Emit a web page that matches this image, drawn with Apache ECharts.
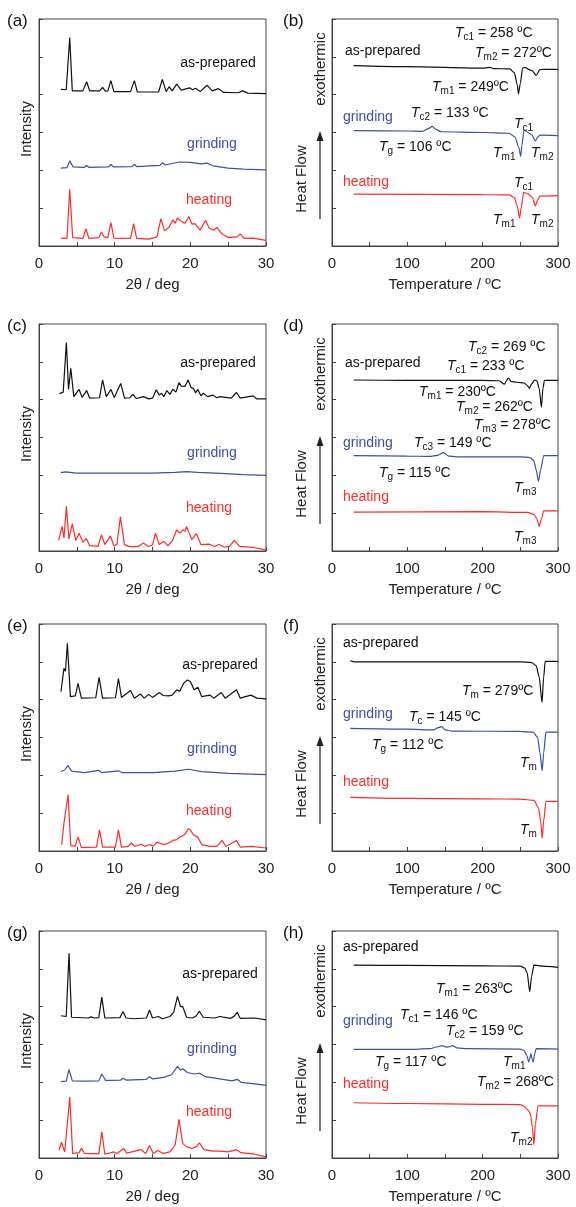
<!DOCTYPE html>
<html><head><meta charset="utf-8">
<script src="https://cdn.jsdelivr.net/npm/echarts@6/dist/echarts.min.js"></script>
<style>html,body{margin:0;padding:0;background:#fff}#c{width:576px;height:1207px}</style>
</head><body><div id="c"></div>
<script>
// ---------- tick labels / categories ----------
const xrdTicks = [0, 10, 20, 30];
const dscTicks = [0, 100, 200, 300];
const samples = ['as-prepared', 'grinding', 'heating'];
const panelLetters = ['(a)', '(b)', '(c)', '(d)', '(e)', '(f)', '(g)', '(h)'];

// ---------- (a) XRD ----------
const xrdA_prep = [[2.9,414],[3.6,413],[4.06,551],[4.4,410],[5.8,410],[6.3,434],[6.7,410],[8.0,410],[8.4,419],[8.8,409],[9.1,410],[9.5,437],[9.9,408],[12.1,408],[12.6,437],[13.0,407],[15.8,407],[16.3,440],[16.8,408],[17.2,421],[17.6,410],[18.2,428],[18.8,412],[19.9,418],[20.3,413],[20.7,417],[21.3,408],[22.2,425],[22.9,410],[23.7,416],[24.4,406],[26.3,405],[26.9,410],[27.6,404],[30,403]];
const xrdA_grind = [[2.9,206],[3.7,207],[4.06,225],[4.5,209],[6.0,208],[6.3,213],[6.6,208],[9.2,209],[9.5,216],[9.8,209],[12.3,210],[12.6,216],[12.9,210],[16.0,213],[16.3,220],[16.7,214],[18.5,222],[20,221],[21.5,217],[22.2,219],[23,212],[25,206],[27,203],[30,201]];
const xrdA_heat = [[2.9,21],[3.7,20],[4.06,150],[4.45,22],[5.8,20],[6.2,45],[6.6,20],[7.9,22],[8.25,37],[8.6,24],[9.1,22],[9.5,62],[9.9,21],[12.1,20],[12.5,59],[12.9,20],[14.5,18],[15.6,24],[16.1,72],[16.6,40],[17.2,50],[17.7,69],[18.0,60],[18.3,74],[18.8,65],[19.3,60],[19.8,78],[20.2,58],[20.6,59],[21.3,42],[22.0,68],[22.5,47],[23.1,42],[23.5,49],[24.1,34],[25,22],[26.2,24],[26.6,32],[27.1,20],[28.3,21],[30,15]];
// ---------- (b) DSC ----------
const dscB_prep = [[28.7,477],[100,474],[200,470],[209,472],[215,469],[236,468],[242,458],[246,425],[247.5,402],[250,430],[253,470],[256,472],[262,466],[266,463],[271,451],[276,466],[280,467],[300,467]];
const dscB_grind = [[28.7,305],[100,304],[120,303],[128,310],[133,316],[138,308],[145,302],[200,300],[235,298],[243,288],[248,260],[250.5,237],[252,265],[255,307],[260,300],[265,294],[270,278],[273,288],[276,293],[300,292]];
const dscB_heat = [[28.7,137],[200,136],[235,135],[242,128],[246,105],[249,74],[251,100],[254.5,142],[260,138],[266,128],[270,106],[273,122],[276,132],[300,133]];
// ---------- (c) XRD ----------
const xrdC_prep = [[2.7,416],[3.2,420],[3.62,551],[3.9,427],[4.2,483],[4.6,408],[5.3,427],[5.7,406],[6.3,424],[6.7,404],[8.0,405],[8.4,452],[8.9,408],[9.5,427],[9.95,406],[10.8,443],[11.3,404],[12.0,405],[12.4,414],[12.9,403],[13.8,408],[14.5,402],[15.0,404],[15.5,426],[15.9,412],[16.2,417],[16.5,408],[16.9,424],[17.3,414],[17.7,428],[18.1,420],[18.5,445],[18.8,436],[19.0,439],[19.3,435],[19.7,452],[20.1,432],[20.4,430],[20.7,418],[21.0,427],[21.4,410],[21.7,417],[22.3,408],[23.0,412],[23.5,405],[23.9,408],[25.4,404],[26.1,419],[26.6,404],[28.3,410],[28.8,402],[30,402]];
const xrdC_grind = [[2.9,207],[3.5,209],[5,206],[10,206],[15,206],[18,208],[19.5,210],[21,208],[24,205],[27,202],[30,200]];
const xrdC_heat = [[2.6,28],[3.05,65],[3.3,34],[3.62,118],[3.95,32],[4.4,72],[4.85,28],[5.3,47],[5.8,23],[6.26,33],[6.7,14],[7.8,12],[8.25,43],[8.7,17],[9.44,40],[9.9,14],[10.3,18],[10.76,90],[11.3,17],[11.8,13],[12.4,11],[13.1,12],[13.8,21],[14.4,12],[15.0,16],[15.4,47],[15.9,17],[16.5,26],[17.0,14],[17.6,26],[18.2,56],[18.6,47],[19.0,56],[19.3,52],[19.5,65],[20.2,30],[20.8,46],[21.4,17],[22.5,18],[23.2,12],[23.8,17],[24.5,10],[25.2,13],[25.8,28],[26.5,12],[27.9,10],[28.7,8],[30,3]];
// ---------- (d) DSC ----------
const dscD_prep = [[28.7,452],[100,451],[200,451],[222,450],[229,441],[231,448],[234,457],[238,448],[245,446],[255,444],[259,438],[262,430],[265,442],[269,452],[272,450],[275,430],[278,380],[280,430],[282,451],[300,451]];
const dscD_grind = [[28.7,252],[100,251],[130,250],[140,253],[148,260],[155,251],[165,249],[250,249],[263,247],[268,238],[271,215],[274,184],[277,215],[281,252],[300,252]];
const dscD_heat = [[28.7,103],[200,104],[260,102],[268,97],[272,85],[275,65],[278,85],[281,106],[300,106]];
// ---------- (e) XRD ----------
const xrdE_prep = [[2.9,421],[3.3,483],[3.5,475],[3.75,549],[4.15,408],[4.8,410],[5.16,443],[5.6,404],[7.5,405],[7.94,459],[8.4,404],[10.1,405],[10.5,456],[10.9,406],[12.1,424],[12.6,404],[13.4,415],[13.9,404],[14.5,414],[15.0,406],[15.9,419],[16.4,411],[17.1,410],[17.6,412],[18.2,426],[18.6,422],[19.1,443],[19.6,452],[20.0,448],[20.5,426],[21.0,433],[21.5,408],[22.6,412],[23.1,404],[24.1,419],[24.6,404],[26.1,426],[26.6,404],[28.0,412],[28.8,404],[30,402]];
const xrdE_grind = [[2.9,210],[3.4,214],[3.8,226],[4.3,211],[6,207],[7.9,213],[8.3,207],[10.5,212],[11,207],[15,207],[18,211],[19.8,216],[21.5,210],[25,205],[30,202]];
const xrdE_heat = [[3.0,17],[3.3,74],[3.5,70],[3.84,149],[4.2,14],[4.8,13],[5.16,37],[5.6,9],[7.6,10],[8.0,56],[8.4,10],[10.1,10],[10.5,56],[10.9,10],[11.8,12],[12.2,21],[12.7,12],[13.5,18],[14.0,12],[14.6,17],[15.1,13],[15.6,23],[16.5,17],[17.0,20],[17.7,28],[18.2,30],[18.6,37],[19.0,40],[19.4,47],[19.7,59],[20.0,56],[20.4,43],[21.0,36],[21.5,17],[22.6,12],[23.5,12],[24.2,28],[24.7,12],[26.1,28],[26.6,10],[28.1,12],[30,8]];
// ---------- (f) DSC ----------
const dscF_prep = [[24.3,503],[30,500],[100,500],[200,500],[250,500],[265,498],[271,490],[275,460],[278.8,393],[281,460],[283,501],[300,501]];
const dscF_grind = [[24.3,324],[100,322],[135,320],[141,326],[145.6,329],[150,320],[160,317],[250,316],[267,314],[273,300],[276,260],[279,212],[281,260],[284,314],[300,314]];
const dscF_heat = [[24.3,142],[100,139],[200,138],[250,137],[268,134],[274,115],[277,80],[279,34],[281,80],[284,131],[300,131]];
// ---------- (g) XRD ----------
const xrdG_prep = [[2.9,376],[3.6,374],[3.97,541],[4.3,372],[6.5,370],[6.9,373],[7.3,370],[7.9,371],[8.3,425],[8.7,370],[10.7,371],[11.1,387],[11.5,370],[12.5,368],[14.2,370],[14.6,391],[15.0,370],[15.8,374],[16.3,368],[17.3,374],[17.8,385],[18.3,427],[18.7,400],[19.0,400],[19.5,372],[20.3,370],[20.8,376],[21.2,388],[21.7,372],[23.2,370],[23.9,374],[25.3,369],[25.8,375],[26.2,385],[26.6,369],[28.5,370],[30,365]];
const xrdG_grind = [[2.9,202],[3.6,203],[3.97,234],[4.4,204],[6,203],[7.9,204],[8.3,222],[8.8,205],[10.8,206],[11.1,211],[11.5,206],[14.2,208],[14.6,215],[15.0,209],[16.5,213],[17.5,220],[18.3,242],[18.7,232],[19.0,236],[19.6,226],[20.5,222],[21.2,224],[22.0,215],[23.9,209],[25.5,204],[26.2,208],[26.7,200],[28.5,196],[30,192]];
const xrdG_heat = [[2.65,20],[2.96,42],[3.4,16],[4.06,161],[4.45,12],[5.3,14],[5.6,26],[6.0,12],[7.9,11],[8.3,69],[8.7,10],[9.9,16],[10.3,12],[11.2,25],[11.6,13],[13.5,22],[14.1,12],[14.6,33],[15.1,12],[15.7,20],[16.4,12],[17.3,16],[18.0,35],[18.5,102],[19.0,38],[19.5,30],[20.2,25],[20.8,30],[21.2,40],[21.8,22],[23.0,18],[23.9,18],[25,16],[26.1,22],[26.7,14],[28.5,10],[30,3]];
// ---------- (h) DSC ----------
const dscH_prep = [[28.7,510],[100,509],[200,508],[250,507],[256,502],[259,490],[262.5,440],[265,480],[268,510],[275,508],[300,504]];
const dscH_grind = [[28.7,287],[100,287],[130,289],[140,294],[146,297],[152,293],[156,294],[160,297],[166,291],[180,289],[250,288],[255,284],[259,270],[261,254],[262.5,262],[264,276],[265.5,262],[267,254],[269,275],[271,289],[300,288]];
const dscH_heat = [[28.7,146],[100,144],[200,142],[250,141],[256,136],[259,128],[262,122],[264,110],[266,80],[268,35],[270,90],[273.5,138],[300,138]];

// ---------- annotation texts ----------
const dscNotes = [
  // (b)
  [345,51,'as-prepared',0],[455,33,'T_c1 = 258 ºC',0],[475,53,'T_m2 = 272ºC',0],[432,87,'T_m1 = 249ºC',0],
  [343,117,'grinding',1],[411,113,'T_c2 = 133 ºC',0],[514,124,'T_c1',0],[379,147,'T_g = 106 ºC',0],[493,153,'T_m1',0],[531,153,'T_m2',0],
  [343,182,'heating',2],[514,183,'T_c1',0],[493,220,'T_m1',0],[531,220,'T_m2',0],
  // (d)
  [345,363,'as-prepared',0],[468,347,'T_c2 = 269 ºC',0],[447,366,'T_c1 = 233 ºC',0],[419,392,'T_m1 = 230ºC',0],[456,407,'T_m2 = 262ºC',0],[474,425,'T_m3 = 278ºC',0],
  [343,443,'grinding',1],[414,443,'T_c3 = 149 ºC',0],[379,473,'T_g = 115 ºC',0],[514,488,'T_m3',0],
  [343,497,'heating',2],[514,537,'T_m3',0],
  // (f)
  [343,643,'as-prepared',0],[462,691,'T_m = 279ºC',0],
  [343,714,'grinding',1],[409,717,'T_c = 145 ºC',0],[372,745,'T_g = 112 ºC',0],[520,763,'T_m',0],
  [343,782,'heating',2],[520,830,'T_m',0],
  // (h)
  [343,947,'as-prepared',0],[436,989,'T_m1 = 263ºC',0],
  [343,1021,'grinding',1],[400,1015,'T_c1 = 146 ºC',0],[446,1031,'T_c2 = 159 ºC',0],[375,1062,'T_g = 117 ºC',0],[503,1062,'T_m1',0],[477,1082,'T_m2 = 268ºC',0],
  [343,1084,'heating',2],[510,1138,'T_m2',0]
];
const xrdNotes = [
  [218,63,0],[212,144,1],[209,200,2],
  [218,363,0],[212,453,1],[209,508,2],
  [220,665,0],[212,749,1],[209,811,2],
  [220,974,0],[212,1049,1],[209,1112,2]
];

// ---------- layout / style ----------
const COLORS = ['#111111', '#3b4fa6', '#ff2b2b'];
const FONT = '"Liberation Sans", Arial, sans-serif';
const rowTops = [19, 324, 624, 931];
const H = 227;
const cols = [{left: 39, width: 227}, {left: 332, width: 226}];
const panelData = [
  [xrdA_prep, xrdA_grind, xrdA_heat], [dscB_prep, dscB_grind, dscB_heat],
  [xrdC_prep, xrdC_grind, xrdC_heat], [dscD_prep, dscD_grind, dscD_heat],
  [xrdE_prep, xrdE_grind, xrdE_heat], [dscF_prep, dscF_grind, dscF_heat],
  [xrdG_prep, xrdG_grind, xrdG_heat], [dscH_prep, dscH_grind, dscH_heat]
];

const grids = [], xAxes = [], yAxes = [], series = [], graphics = [];
panelData.forEach((sets, i) => {
  const row = Math.floor(i / 2), col = i % 2, isDsc = col === 1;
  const top = rowTops[row];
  grids.push({left: cols[col].left, width: cols[col].width, top: top, height: H,
    show: true, borderColor: '#444', borderWidth: 1, backgroundColor: 'transparent'});
  const ticks = isDsc ? dscTicks : xrdTicks;
  xAxes.push({gridIndex: i, type: 'value', min: 0, max: isDsc ? 300 : 30, interval: isDsc ? 50 : 5,
    name: isDsc ? 'Temperature / ºC' : '2θ / deg', nameLocation: 'middle', nameGap: 31,
    nameTextStyle: {fontFamily: FONT, fontSize: 15, color: '#222'},
    axisLine: {show: true, onZero: false, lineStyle: {color: '#444', width: 1}},
    axisTick: {show: true, inside: true, length: 4, lineStyle: {color: '#444'}},
    axisLabel: {fontFamily: FONT, fontSize: 15, color: '#222', margin: 10,
      formatter: v => ticks.includes(v) ? String(v) : ''},
    splitLine: {show: false}});
  yAxes.push({gridIndex: i, type: 'value', min: 0, max: 600, interval: 100,
    axisLine: {show: true, lineStyle: {color: '#444', width: 1}},
    axisTick: {show: true, inside: true, length: 4, lineStyle: {color: '#444'}},
    axisLabel: {show: false}, splitLine: {show: false}});
  sets.forEach((d, k) => {
    series.push({type: 'line', name: samples[k], xAxisIndex: i, yAxisIndex: i, data: d,
      showSymbol: false, symbol: 'none', smooth: isDsc ? 0.25 : false, smoothMonotone: 'x',
      lineStyle: {color: COLORS[k], width: 1.2}, silent: true});
  });
  // panel letter
  graphics.push({type: 'text', x: isDsc ? 283 : 7, y: top + 2,
    style: {text: panelLetters[i], fontFamily: FONT, fontSize: 17, fill: '#111', textAlign: 'left', textVerticalAlign: 'middle', verticalAlign: 'middle'}});
  if (!isDsc) {
    graphics.push({type: 'text', x: 27, y: top + 110, rotation: Math.PI / 2,
      style: {text: 'Intensity', fontFamily: FONT, fontSize: 15, fill: '#222', textAlign: 'center', textVerticalAlign: 'middle', verticalAlign: 'middle'}});
  } else {
    graphics.push({type: 'text', x: 321, y: top + 50, rotation: Math.PI / 2,
      style: {text: 'exothermic', fontFamily: FONT, fontSize: 15, fill: '#222', textAlign: 'center', textVerticalAlign: 'middle', verticalAlign: 'middle'}});
    graphics.push({type: 'text', x: 302, y: top + 160, rotation: Math.PI / 2,
      style: {text: 'Heat Flow', fontFamily: FONT, fontSize: 15, fill: '#222', textAlign: 'center', textVerticalAlign: 'middle', verticalAlign: 'middle'}});
    graphics.push({type: 'line', shape: {x1: 320, y1: top + 200, x2: 320, y2: top + 120}, style: {stroke: '#222', lineWidth: 1.2}});
    graphics.push({type: 'polygon', shape: {points: [[320, top + 112], [316.5, top + 122], [323.5, top + 122]]}, style: {fill: '#222'}});
  }
});

xrdNotes.forEach(([x, y, k]) => {
  graphics.push({type: 'text', x: x, y: y,
    style: {text: samples[k], fontFamily: FONT, fontSize: 14, fill: COLORS[k], textAlign: 'center', textVerticalAlign: 'middle', verticalAlign: 'middle'}});
});

function richText(s) {
  const m = s.match(/^T_(\S+)(.*)$/);
  if (!m) return '{n|' + s + '}';
  return '{i|T}{s|' + m[1] + '}' + (m[2] ? '{n|' + m[2] + '}' : '');
}
dscNotes.forEach(([x, y, s, k]) => {
  const fill = COLORS[k];
  graphics.push({type: 'text', x: x, y: y,
    style: {text: richText(s), fill: fill, fontFamily: FONT, fontSize: 14, textAlign: 'left', textVerticalAlign: 'middle', verticalAlign: 'middle',
      rich: {
        i: {fontFamily: FONT, fontSize: 14, fontStyle: 'italic', fill: fill, lineHeight: 18},
        s: {fontFamily: FONT, fontSize: 10, fill: fill, padding: [9, 0, 0, 0], lineHeight: 18},
        n: {fontFamily: FONT, fontSize: 14, fill: fill, lineHeight: 18}
      }}});
});

const chart = echarts.init(document.getElementById('c'), null, {renderer: 'canvas'});
chart.setOption({animation: false, backgroundColor: '#fff', grid: grids, xAxis: xAxes, yAxis: yAxes, series: series, graphic: graphics});
</script></body></html>
